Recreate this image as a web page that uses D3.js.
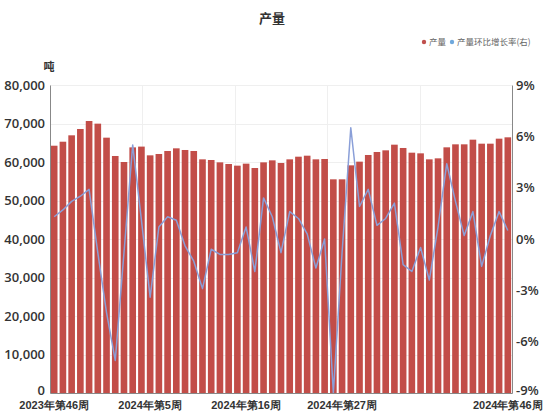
<!DOCTYPE html>
<html>
<head>
<meta charset="utf-8">
<script src="https://cdn.jsdelivr.net/npm/d3@7"></script>
<style>
  html, body { margin: 0; padding: 0; background: #fff; }
  svg { display: block; font-family: "Noto Sans CJK SC", "Noto Sans", sans-serif; }
</style>
</head>
<body>
<svg id="chart" width="544" height="412"></svg>
<script>
// Weekly output (tonnes) and week-over-week growth rate (%)
const weeks = [
  "2023年第46周","2023年第47周","2023年第48周","2023年第49周","2023年第50周","2023年第51周","2023年第52周",
  "2024年第1周","2024年第2周","2024年第3周","2024年第4周","2024年第5周","2024年第6周","2024年第7周",
  "2024年第8周","2024年第9周","2024年第10周","2024年第11周","2024年第12周","2024年第13周","2024年第14周",
  "2024年第15周","2024年第16周","2024年第17周","2024年第18周","2024年第19周","2024年第20周","2024年第21周",
  "2024年第22周","2024年第23周","2024年第24周","2024年第25周","2024年第26周","2024年第27周","2024年第28周",
  "2024年第29周","2024年第30周","2024年第31周","2024年第32周","2024年第33周","2024年第34周","2024年第35周",
  "2024年第36周","2024年第37周","2024年第38周","2024年第39周","2024年第40周","2024年第41周","2024年第42周",
  "2024年第43周","2024年第44周","2024年第45周","2024年第46周"
];

const output = [
  64230, 65270, 66930, 68570, 70650, 69960, 66320, 61560, 60000, 63800,
  64000, 61730, 62080, 62860, 63550, 63120, 62860, 60690, 60520, 59910,
  59480, 59050, 59570, 58440, 59910, 60430, 59740, 60690, 61380, 61640,
  60690, 60780, 55500, 55500, 59130, 60090, 61820, 62600, 63030, 64500,
  63640, 62420, 62250, 60690, 60950, 63810, 64590, 64590, 65800, 64760,
  64760, 66060, 66410
];

const growth = [
  1.3, 1.7, 2.2, 2.5, 2.9, -0.8, -4.3, -7.1, -0.8, 5.5,
  1.1, -3.4, 0.7, 1.3, 1.1, -0.4, -1.3, -2.9, -0.6, -0.9,
  -0.9, -0.8, 0.7, -1.9, 2.4, 1.3, -0.8, 1.6, 1.2, 0.3,
  -1.7, 0.0, -9.0, -0.8, 6.5, 1.9, 2.9, 0.8, 1.2, 2.1,
  -1.5, -1.9, -0.5, -2.4, 0.7, 4.4, 2.2, 0.2, 1.6, -1.6,
  0.2, 1.6, 0.5
];

const xTickLabels = ["2023年第46周", "2024年第5周", "2024年第16周", "2024年第27周", "2024年第46周"];
const leftTicks = [0, 10000, 20000, 30000, 40000, 50000, 60000, 70000, 80000];
const rightTicks = [-9, -6, -3, 0, 3, 6, 9];

const svg = d3.select("#chart");
const m = { left: 50, right: 512, top: 85, bottom: 393 };

const x = d3.scaleBand().domain(weeks).range([m.left, m.right]).paddingInner(0.24).paddingOuter(0.1);
const yL = d3.scaleLinear().domain([0, 80000]).range([m.bottom, m.top]);
const yR = d3.scaleLinear().domain([-9, 9]).range([m.bottom, m.top]);

// Title
svg.append("text").attr("x", 272).attr("y", 23).attr("text-anchor", "middle")
  .attr("font-size", 13).attr("font-weight", "bold").attr("fill", "#333").text("产量");

// Legend
const legend = svg.append("g").attr("font-size", 8.5).attr("fill", "#666");
legend.append("circle").attr("cx", 424).attr("cy", 42).attr("r", 2.2).attr("fill", "#c0504d");
legend.append("text").attr("x", 429).attr("y", 45).text("产量");
legend.append("circle").attr("cx", 452).attr("cy", 42).attr("r", 2.2).attr("fill", "#6fa8dc");
legend.append("text").attr("x", 457).attr("y", 45).text("产量环比增长率(右)");

// Unit label
svg.append("text").attr("x", 49).attr("y", 71).attr("text-anchor", "middle")
  .attr("font-size", 11).attr("font-weight", "bold").attr("fill", "#333").text("吨");

// Gridlines
const grid = svg.append("g").attr("stroke", "#efefef").attr("stroke-width", 1);
grid.selectAll("line.h").data(leftTicks.slice(1)).join("line")
  .attr("x1", m.left).attr("x2", m.right)
  .attr("y1", d => Math.round(yL(d)) + 0.5).attr("y2", d => Math.round(yL(d)) + 0.5);
const vx = d3.range(1, 5).map(i => m.left + (m.right - m.left) * i / 5);
grid.selectAll("line.v").data(vx).join("line")
  .attr("x1", d => Math.round(d) + 0.5).attr("x2", d => Math.round(d) + 0.5)
  .attr("y1", m.top).attr("y2", m.bottom);

// Bars
svg.append("g").selectAll("rect").data(output).join("rect")
  .attr("x", (d, i) => x(weeks[i]))
  .attr("width", x.bandwidth())
  .attr("y", d => yL(d))
  .attr("height", d => yL(0) - yL(d))
  .attr("fill", "#c24d48");

// Growth line
const line = d3.line()
  .x((d, i) => x(weeks[i]) + x.bandwidth() / 2)
  .y(d => yR(d));
svg.append("path").datum(growth)
  .attr("d", line)
  .attr("fill", "none")
  .attr("stroke", "#8a9fd8")
  .attr("stroke-width", 1.5)
  .attr("stroke-linejoin", "round");

// Left axis
const axL = svg.append("g").attr("transform", `translate(${m.left},0)`)
  .call(d3.axisLeft(yL).tickValues(leftTicks).tickSize(0).tickPadding(5).tickFormat(d3.format(",")));
axL.select(".domain").attr("stroke", "#888");
axL.selectAll("text").attr("font-size", 13).attr("fill", "#333")
  .attr("font-family", "'Open Sans', 'Noto Sans', sans-serif").attr("font-weight", 600)
  .attr("dy", d => d === 0 ? "0.1em" : "0.32em");

// Right axis
const axR = svg.append("g").attr("transform", `translate(${m.right},0)`)
  .call(d3.axisRight(yR).tickValues(rightTicks).tickSize(0).tickPadding(4).tickFormat(d => d + "%"));
axR.select(".domain").attr("stroke", "#888");
axR.selectAll("text").attr("font-size", 13).attr("fill", "#333")
  .attr("font-family", "'Open Sans', 'Noto Sans', sans-serif").attr("font-weight", 600)
  .attr("dy", d => d === -9 ? "0.1em" : "0.32em");

// Bottom axis
const axB = svg.append("g").attr("transform", `translate(0,${m.bottom})`)
  .call(d3.axisBottom(x).tickValues(xTickLabels).tickSize(0).tickPadding(8));
axB.select(".domain").attr("stroke", "#888");
axB.selectAll("text").attr("font-size", 11).attr("fill", "#333").attr("font-weight", 600);
</script>
</body>
</html>
